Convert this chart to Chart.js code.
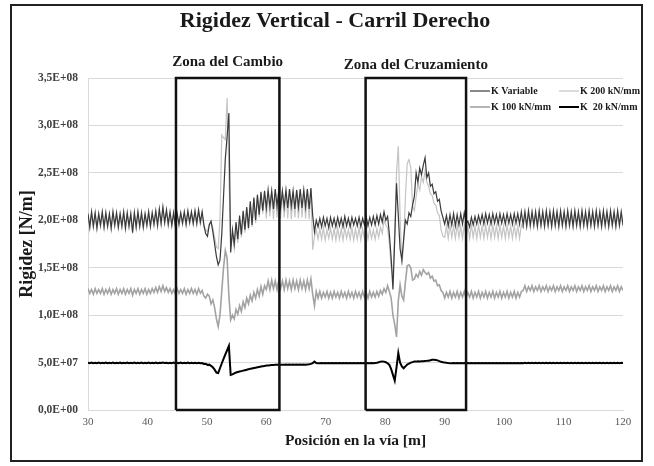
<!DOCTYPE html>
<html>
<head>
<meta charset="utf-8">
<script src="https://cdn.jsdelivr.net/npm/chart.js@4.4.1/dist/chart.umd.min.js"></script>
<style>
  html, body { margin: 0; padding: 0; background: #fff; }
  #wrap { position: relative; width: 654px; height: 466px; }
</style>
</head>
<body>
<div id="wrap"><canvas id="chart"></canvas></div>
<script>
// posiciones de traviesa cada 0.3 m, de 30 a 120 m
const positions = Array.from({ length: 301 }, (_, i) => Math.round((30 + i * 0.3) * 10) / 10);

// rigidez en MN/m (x1e6 N/m)
const kVariable = [
  207,193,209,194,208,192,207,195,209,193,
  208,194,207,192,209,195,208,193,207,194,
  209,192,208,194,207,187,208,193,209,194,
  208,193,207,195,209,194,208,196,210,195,
  212,197,214,198,211,196,209,195,208,194,
  207,196,208,197,209,196,210,198,209,197,
  210,197,211,198,209,195,186,183,195,199,
  188,175,162,153,158,185,225,265,288,313,
  166,190,175,198,180,205,185,210,190,214,
  192,220,195,224,200,227,206,230,210,231,
  213,232,214,231,212,233,215,232,213,231,
  214,232,213,233,215,231,212,232,214,233,
  213,232,214,233,212,234,205,188,200,193,
  202,193,203,194,202,192,203,194,202,193,
  203,194,202,193,204,194,202,193,203,195,
  202,194,203,193,202,195,204,194,203,195,
  204,195,205,196,206,198,209,200,204,185,
  160,127,180,239,205,170,158,180,200,196,
  208,204,216,225,250,240,255,248,258,266,
  245,250,236,238,228,230,220,222,210,203,
  196,205,194,206,195,207,194,206,195,207,
  196,208,197,199,193,203,195,204,196,205,
  197,206,196,207,197,206,196,207,197,206,
  196,207,197,206,196,207,197,206,196,207,
  197,207,196,209,195,209,194,210,195,209,
  195,209,194,210,195,209,194,210,195,209,
  194,210,195,209,194,210,195,209,194,210,
  195,209,194,210,195,209,194,210,195,209,
  194,210,195,209,194,210,195,209,194,210,
  195,209,194,210,195,209,194,210,195,209,
  195
];

const k200 = [
  205,191,207,192,206,190,205,193,207,191,
  206,192,205,190,207,193,206,191,205,192,
  207,190,206,192,205,189,206,191,207,192,
  206,191,205,193,207,192,206,194,208,193,
  210,195,212,196,209,194,207,193,206,192,
  205,194,206,195,207,194,208,196,207,195,
  208,195,209,196,207,193,190,188,196,198,
  192,182,172,170,200,290,287,285,329,250,
  172,185,170,192,176,200,182,207,187,212,
  190,218,193,222,197,225,203,228,207,229,
  202,231,204,230,201,232,203,231,202,230,
  203,231,202,232,201,230,203,231,202,232,
  203,231,202,232,201,233,169,183,190,180,
  191,180,192,179,190,181,192,180,191,179,
  192,180,191,179,192,181,190,180,192,179,
  191,180,192,179,191,181,192,180,191,181,
  190,180,191,182,193,186,200,195,192,175,
  150,140,190,250,278,205,152,175,225,260,
  264,255,215,210,225,238,232,246,240,252,
  240,236,228,226,218,216,208,205,190,183,
  182,194,181,195,182,194,181,195,182,194,
  181,195,182,194,181,195,182,194,181,195,
  182,194,181,195,182,194,181,195,182,194,
  181,195,182,194,181,195,182,194,181,195,
  182,194,181,195,192,207,193,208,192,207,
  193,207,192,208,193,207,192,208,193,207,
  192,208,193,207,192,208,193,207,192,208,
  193,207,192,208,193,207,192,208,193,207,
  192,208,193,207,192,208,193,207,192,208,
  193,207,192,208,193,207,192,208,193,207,
  193
];

const k100 = [
  128,123,127,122,128,123,127,123,128,122,
  127,123,128,122,127,123,128,122,127,123,
  128,122,127,123,128,121,127,123,128,122,
  127,123,128,122,127,123,128,124,129,124,
  130,125,131,125,129,124,128,123,127,122,
  128,123,127,123,128,122,127,123,128,123,
  127,122,128,123,126,120,118,122,120,112,
  116,108,96,88,100,125,150,168,160,120,
  95,100,96,106,101,110,104,114,108,118,
  112,121,115,124,118,127,120,130,122,131,
  127,136,127,137,128,136,127,137,128,136,
  127,137,128,136,127,137,128,136,127,137,
  128,136,127,137,128,138,122,110,125,118,
  125,118,124,119,125,118,124,118,125,119,
  124,118,125,119,124,118,125,119,124,118,
  125,119,124,118,125,119,124,118,125,119,
  124,119,125,120,126,122,128,124,131,125,
  118,100,90,77,115,132,120,116,135,152,
  153,150,137,138,143,140,146,142,148,145,
  143,145,139,141,136,137,131,132,126,124,
  118,124,119,125,118,124,119,125,118,124,
  119,125,118,124,119,125,118,124,119,125,
  118,124,119,125,118,124,119,125,118,124,
  119,125,118,124,119,125,118,124,119,125,
  118,124,119,125,126,131,125,130,126,131,
  125,130,126,131,125,130,126,131,125,130,
  126,131,125,130,126,131,125,130,126,131,
  125,130,126,131,125,130,126,131,125,130,
  126,131,125,130,126,131,125,130,126,131,
  125,130,126,131,125,130,126,131,125,130,
  126
];

const k20 = [
  49.8,49.3,49.9,49.4,49.8,49.3,49.9,49.4,49.8,49.3,
  49.9,49.4,49.8,49.3,49.9,49.4,49.8,49.3,49.9,49.4,
  49.8,49.3,49.9,49.4,49.8,49.3,49.9,49.4,49.8,49.3,
  49.9,49.4,49.8,49.3,49.9,49.4,49.8,49.3,49.9,49.4,
  49.9,49.5,50.1,49.6,49.9,49.4,49.8,49.3,49.9,49.4,
  49.8,49.3,49.9,49.4,49.8,49.3,49.9,49.4,49.8,49.3,
  49.8,49.4,49.7,49.2,49.5,48.5,48.8,47.5,47.8,46.5,
  45,42.5,39.5,39,44,49,54,58.5,63,67.5,
  37,37.5,38.5,39.5,40,40.5,41,41.5,42,42.5,
  43,43.4,43.8,44.2,44.6,45,45.4,45.8,46.2,46.5,
  46.8,47,47.2,47.4,47.5,47.6,47.6,47.7,47.7,47.8,
  47.7,47.9,47.7,47.9,47.7,47.9,47.7,47.9,47.7,47.9,
  47.7,47.9,47.8,48,48.2,48.6,49.5,51,49.6,49.3,
  49.2,49.5,49.2,49.5,49.2,49.5,49.2,49.5,49.2,49.5,
  49.2,49.5,49.2,49.5,49.2,49.5,49.2,49.5,49.2,49.5,
  49.2,49.5,49.2,49.5,49.2,49.5,49.2,49.5,49.2,49.5,
  49.3,49.6,49.9,50.4,51,51.2,51,50.3,49.3,47.5,
  43,37,31,45,60,50,46,44,46,48,
  49,50,50.5,51,51,51.3,51.2,51.5,51.5,51.7,
  51.8,52,52.5,53,53,52.8,52.3,51.5,50.8,50.3,
  50,49.7,49.5,49.4,49.3,49.5,49.3,49.5,49.3,49.5,
  49.3,49.6,49.3,49.6,49.3,49.6,49.3,49.6,49.3,49.6,
  49.3,49.6,49.3,49.6,49.3,49.6,49.3,49.6,49.3,49.6,
  49.3,49.6,49.3,49.6,49.3,49.6,49.3,49.6,49.3,49.6,
  49.3,49.6,49.3,49.6,49.4,49.7,49.4,49.7,49.4,49.7,
  49.4,49.7,49.4,49.7,49.4,49.7,49.4,49.7,49.4,49.7,
  49.4,49.7,49.4,49.7,49.4,49.7,49.4,49.7,49.4,49.7,
  49.4,49.7,49.4,49.7,49.4,49.7,49.4,49.7,49.4,49.7,
  49.4,49.7,49.4,49.7,49.4,49.7,49.4,49.7,49.4,49.7,
  49.4,49.7,49.4,49.7,49.4,49.7,49.4,49.7,49.4,49.7,
  49.5
];

// zonas marcadas (m)
const zoneNames = ['Zona del Cambio', 'Zona del Cruzamiento'];
const zoneStart = [44.8, 76.7];
const zoneEnd = [62.2, 93.6];

const xTicks = [30, 40, 50, 60, 70, 80, 90, 100, 110, 120];
const yMax = 3.5e8;
const yStep = 0.5e8;

const SERIF = "'Liberation Serif', 'DejaVu Serif', serif";

function toPoints(values) {
  return positions.map((x, i) => ({ x, y: values[i] * 1e6 }));
}

function formatSci(value) {
  const [mant, exp] = Number(value).toExponential(1).split('e');
  const e = parseInt(exp, 10);
  const sign = e < 0 ? '-' : '+';
  return `${mant.replace('.', ',')}E${sign}${String(Math.abs(e)).padStart(2, '0')}`;
}

const zoneDatasets = zoneNames.map((name, i) => ({
  label: name,
  data: [
    { x: zoneStart[i], y: 0 },
    { x: zoneStart[i], y: yMax },
    { x: zoneEnd[i], y: yMax },
    { x: zoneEnd[i], y: 0 },
    { x: zoneStart[i], y: 0 },
  ],
  borderColor: '#111',
  borderWidth: 2.5,
  pointRadius: 0,
  clip: false,
  tension: 0,
}));

const series = [
  { label: 'K Variable', values: kVariable, color: '#3a3a3a', width: 1.2 },
  { label: 'K 200 kN/mm', values: k200, color: '#c4c4c4', width: 1.2 },
  { label: 'K 100 kN/mm', values: k100, color: '#a3a3a3', width: 1.6 },
  { label: 'K  20 kN/mm', values: k20, color: '#000000', width: 2 },
];

const seriesDatasets = series.map(s => ({
  label: s.label,
  data: toPoints(s.values),
  borderColor: s.color,
  borderWidth: s.width,
  pointRadius: 0,
  tension: 0,
}));

const overlayPlugin = {
  id: 'overlay',
  afterDraw(chart) {
    const { ctx, chartArea, scales } = chart;
    ctx.save();

    // marco exterior
    ctx.strokeStyle = '#222';
    ctx.lineWidth = 2;
    ctx.strokeRect(11, 5, 631, 456);

    // titulo
    ctx.fillStyle = '#1a1a1a';
    ctx.textAlign = 'center';
    ctx.textBaseline = 'middle';
    ctx.font = `bold 22px ${SERIF}`;
    ctx.fillText('Rigidez Vertical - Carril Derecho', 335, 21);

    // rotulos de zona
    ctx.font = `bold 15px ${SERIF}`;
    zoneNames.forEach((name, i) => {
      const cx = scales.x.getPixelForValue((zoneStart[i] + zoneEnd[i]) / 2);
      ctx.fillText(name, cx, chartArea.top - 16 + i * 3);
    });

    // leyenda
    const cols = [470, 559];
    const rows = [91, 107];
    ctx.font = `bold 10px ${SERIF}`;
    ctx.textAlign = 'left';
    series.forEach((s, i) => {
      const lx = cols[i % 2];
      const ly = rows[Math.floor(i / 2)];
      ctx.strokeStyle = s.color;
      ctx.lineWidth = s.width;
      ctx.beginPath();
      ctx.moveTo(lx, ly);
      ctx.lineTo(lx + 20, ly);
      ctx.stroke();
      ctx.fillStyle = '#1a1a1a';
      ctx.fillText(s.label, lx + 21, ly + 0.5);
    });

    ctx.restore();
  },
};

new Chart(document.getElementById('chart'), {
  type: 'line',
  data: { datasets: [...zoneDatasets, ...seriesDatasets] },
  options: {
    responsive: true,
    maintainAspectRatio: false,
    animation: false,
    layout: { padding: { left: 12, right: 31, top: 78, bottom: 0 } },
    plugins: {
      legend: { display: false },
      tooltip: { enabled: false },
      title: { display: false },
    },
    scales: {
      x: {
        type: 'linear',
        min: 30,
        max: 120,
        afterBuildTicks: scale => {
          scale.ticks = xTicks.map(v => ({ value: v }));
        },
        afterFit: scale => { scale.height = 56; },
        grid: { display: false, drawTicks: false },
        border: { display: true, color: '#d9d9d9' },
        ticks: {
          padding: 6,
          color: '#595959',
          font: { family: SERIF, size: 11 },
          maxRotation: 0,
        },
        title: {
          display: true,
          text: 'Posición en la vía [m]',
          color: '#1a1a1a',
          font: { family: SERIF, size: 15.5, weight: 'bold' },
          padding: { top: 0, bottom: 16 },
        },
      },
      y: {
        min: 0,
        max: yMax,
        afterFit: scale => { scale.width = 76; },
        grid: { color: '#d9d9d9', drawTicks: false },
        border: { display: true, color: '#d9d9d9' },
        ticks: {
          stepSize: yStep,
          padding: 10,
          color: '#404040',
          font: { family: SERIF, size: 11.5, weight: 'bold' },
          callback: value => formatSci(value),
        },
        title: {
          display: true,
          text: 'Rigidez [N/m]',
          color: '#1a1a1a',
          font: { family: SERIF, size: 18, weight: 'bold' },
          padding: { top: 5, bottom: 0 },
        },
      },
    },
  },
  plugins: [overlayPlugin],
});
</script>
</body>
</html>
